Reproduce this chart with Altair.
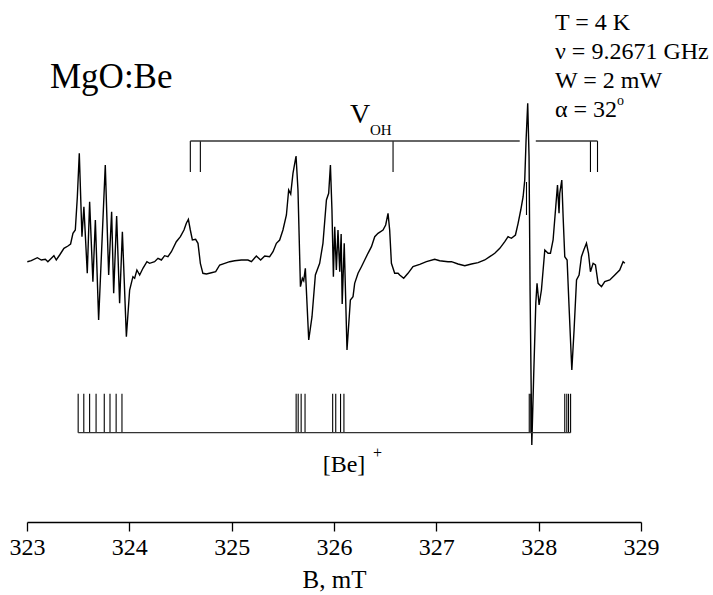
import altair as alt
import pandas as pd

# ---- EPR spectrum (B in mT, intensity in arbitrary units) ----
spec_B = [323.003, 323.042, 323.101, 323.140, 323.179, 323.204, 323.238, 323.263, 323.286, 323.319,
          323.361, 323.400, 323.426, 323.449, 323.472, 323.492, 323.511, 323.537, 323.556, 323.589,
          323.612, 323.644, 323.668, 323.700, 323.765, 323.798, 323.827, 323.847, 323.876, 323.905,
          323.932, 323.971, 324.003, 324.035, 324.052, 324.074, 324.101, 324.133, 324.172, 324.198,
          324.247, 324.280, 324.313, 324.345, 324.377, 324.411, 324.459, 324.499, 324.534, 324.557,
          324.577, 324.596, 324.616, 324.648, 324.671, 324.694, 324.719, 324.753, 324.802, 324.844,
          324.883, 324.932, 324.980, 325.029, 325.095, 325.159, 325.193, 325.241, 325.283, 325.323,
          325.371, 325.404, 325.437, 325.469, 325.501, 325.535, 325.557, 325.577, 325.599, 325.629,
          325.648, 325.672, 325.691, 325.704, 325.720, 325.753, 325.785, 325.818, 325.860, 325.892,
          325.926, 325.948, 325.965, 325.980, 325.994, 326.007, 326.023, 326.039, 326.056, 326.070,
          326.080, 326.100, 326.127, 326.160, 326.186, 326.202, 326.235, 326.268, 326.300, 326.332,
          326.366, 326.398, 326.430, 326.479, 326.505, 326.528, 326.544, 326.561, 326.593, 326.626,
          326.642, 326.681, 326.723, 326.772, 326.838, 326.903, 326.984, 327.033, 327.114, 327.148,
          327.212, 327.278, 327.343, 327.408, 327.473, 327.522, 327.571, 327.620, 327.669, 327.701,
          327.734, 327.773, 327.799, 327.825, 327.848, 327.864, 327.877, 327.893, 327.906, 327.916,
          327.933, 327.952, 327.972, 327.984, 328.004, 328.027, 328.060, 328.092, 328.115, 328.141,
          328.167, 328.184, 328.199, 328.206, 328.226, 328.239, 328.255, 328.278, 328.297, 328.324,
          328.346, 328.370, 328.395, 328.418, 328.441, 328.467, 328.487, 328.506, 328.532, 328.555,
          328.581, 328.614, 328.646, 328.695, 328.744, 328.792, 328.825, 328.842]
spec_I = [0.3, 1.3, 4.3, 2, 2.7, 0.3, 3.7, 6.3, 2, 7,
          13.7, 16, 18, 28.7, 32, 65.3, 108.7, 25.3, 55.3, -11.3,
          60.3, -19.7, 42, -58, 97, -13, 50.3, -31.3, 46, -41.3,
          30.3, -74.7, -28, -14.7, -16.3, -8, -13, -6.3, 0.3, -1.3,
          0.3, 3.7, 2, 6.3, 5.3, 10.3, 20.3, 25.3, 32, 38.7,
          42.7, 32, 22, 22.7, 18.7, -1.3, -11.3, -12, -10.7, -9.7,
          -3, -1.3, 0.3, 1.3, 2, 2, 0.3, 6, 2, 6,
          5.3, 10.3, 18.7, 22, 32, 47, 72, 68, 88.7, 106,
          72, -24.7, -16.3, -18.7, -6.3, -78, -54.7, -13, -1.3, 18.7,
          62, 68.7, 97, 52, -14.7, 35.3, -8, 32, -9.7, 28,
          -42, 18.7, -88, -38, -34.7, -21.3, -11.3, -4.7, 2, 8.7,
          15.3, 25.3, 28.7, 32, 37, 48.7, 32, -1.3, -11.3, -11.3,
          -13, -16.3, -11.3, -4.7, -2.3, 0.3, 2.7, 1.3, 0.3, 0.3,
          -2, -3.7, -2, -0.7, 2, 5.3, 8.7, 13.7, 20.3, 25.3,
          23.7, 27, 38.7, 52, 65.3, 82, 122, 158.7, 105.3, -28,
          -183, -111, -41.3, -21.3, -43, -28, 12, 8.7, 8.7, 22,
          55.3, 77, 48.7, 68.7, 82, 45.3, 5.3, 2, -44.7, -108,
          -68, -18, -13, 5.3, 12, 18.7, 8.7, -9.7, -1.3, -3,
          -21.3, -24.7, -19.7, -18, -13, -8, 0.3, -1.3]

# ---- stick diagrams ----
be_lines = [323.500, 323.555, 323.612, 323.675, 323.755, 323.811, 323.871, 323.928,
            325.630, 325.650, 325.679, 325.717,
            325.987, 326.017, 326.064, 326.097,
            327.908, 327.923,
            328.255, 328.275, 328.292, 328.312]
voh_lines = [324.596, 324.694, 326.577, 328.506, 328.575]
voh_center_line = [327.881]
voh_bracket = [(324.596, 327.815), (327.972, 328.575)]

x_ticks = [323, 324, 325, 326, 327, 328, 329]

FONT = "Liberation Serif"
YDOM = [-260, 262]
xs = alt.Scale(domain=[323, 329], nice=False, zero=False)
ys = alt.Scale(domain=YDOM, nice=False, zero=False)

spec = pd.DataFrame({"B": spec_B, "I": spec_I})

line = alt.Chart(spec).mark_line(color="black", strokeWidth=1.4).encode(
    x=alt.X("B:Q", scale=xs,
            axis=alt.Axis(values=x_ticks, format="d", title="B, mT", grid=False,
                          domainColor="black", domainWidth=1.3, tickColor="black",
                          tickWidth=1.3, tickSize=9, labelFont=FONT, labelFontSize=24,
                          labelColor="black", labelPadding=4, titleFont=FONT,
                          titleFontSize=25, titleFontWeight="normal", titleColor="black",
                          titlePadding=8, labelFlush=False)),
    y=alt.Y("I:Q", scale=ys, axis=None),
    order=alt.Order("B:Q"),
)

be_df = pd.DataFrame({"B": be_lines})
be_sticks = alt.Chart(be_df).mark_rule(color="black", strokeWidth=1.1).encode(
    x=alt.X("B:Q", scale=xs), y=alt.datum(-131.8, scale=ys), y2=alt.datum(-170.7)
)
be_base = alt.Chart(pd.DataFrame({"a": [min(be_lines)], "b": [max(be_lines)]})).mark_rule(
    color="#333", strokeWidth=1.3).encode(
    x=alt.X("a:Q", scale=xs), x2="b:Q", y=alt.datum(-170.7, scale=ys)
)

voh_df = pd.DataFrame({"B": voh_lines})
voh_sticks = alt.Chart(voh_df).mark_rule(color="black", strokeWidth=1.1).encode(
    x=alt.X("B:Q", scale=xs), y=alt.datum(121, scale=ys), y2=alt.datum(90)
)
voh_mid = alt.Chart(pd.DataFrame({"B": voh_center_line})).mark_rule(
    color="black", strokeWidth=1.1).encode(
    x=alt.X("B:Q", scale=xs), y=alt.datum(80, scale=ys), y2=alt.datum(47)
)
br_df = pd.DataFrame({"a": [s for s, _ in voh_bracket], "b": [e for _, e in voh_bracket]})
voh_br = alt.Chart(br_df).mark_rule(color="#333", strokeWidth=1.3).encode(
    x=alt.X("a:Q", scale=xs), x2="b:Q", y=alt.datum(121, scale=ys)
)


def txt(s, x, y, size, align="left"):
    return alt.Chart(pd.DataFrame({"t": [s]})).mark_text(
        font=FONT, fontSize=size, align=align, baseline="alphabetic", color="black"
    ).encode(x=alt.value(x), y=alt.value(y), text="t:N")


texts = [
    txt("MgO:Be", 23, 88, 35),
    txt("T = 4 K", 528, 30, 24),
    txt("ν = 9.2671 GHz", 528, 59, 24),
    txt("W = 2 mW", 528, 88, 24),
    txt("α = 32", 528, 117, 24),
    txt("o", 590, 105, 14),
    txt("V", 333, 123, 28, "center"),
    txt("OH", 343, 135, 15),
    txt("[Be]", 317, 472, 24, "center"),
    txt("+", 346, 458, 16),
]

chart = alt.layer(line, be_sticks, be_base, voh_sticks, voh_mid, voh_br, *texts).properties(
    width=614, height=522,
    autosize=alt.AutoSizeParams(type="none"),
    padding={"left": 27, "top": 0, "right": 72, "bottom": 73},
    background="white",
).configure_view(stroke=None)

chart.save("out.html", embed_options={"renderer": "svg", "actions": False})
